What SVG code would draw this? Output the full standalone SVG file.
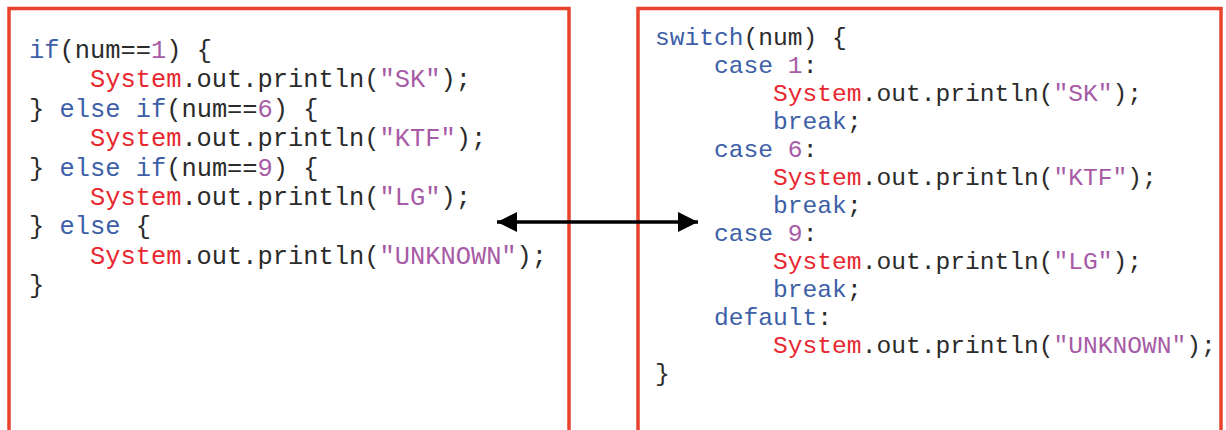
<svg xmlns="http://www.w3.org/2000/svg" width="1226" height="430" viewBox="0 0 1226 430">
<style>
.box{fill:#ffffff;stroke:#E8412C;stroke-width:3.5}
.code{font-family:"Liberation Mono","Courier New",monospace;fill:#2b2b2b}
.l{font-size:25.4px}
.r{font-size:24.6px}
.kw{fill:#3D5FA8}
.cls{fill:#E8272F}
.str{fill:#A75BA6}
.num{fill:#A75BA6}
.conn{stroke:#000;stroke-width:3.5;fill:none}
</style>
<defs>
<marker id="ah" viewBox="0 0 20 20" refX="20" refY="10" markerWidth="20" markerHeight="20" markerUnits="userSpaceOnUse" orient="auto-start-reverse">
<path d="M0,0 L20,10 L0,20 Z" fill="#000"/>
</marker>
</defs>
<rect width="1226" height="430" fill="#ffffff"/>
<g id="if-else-box">
<rect class="box" x="9" y="8.5" width="560" height="440"/>
<text class="code l" xml:space="preserve">
<tspan x="29" y="58"><tspan class="kw">if</tspan>(num==<tspan class="num">1</tspan>) {</tspan>
<tspan x="29" y="87.4">    <tspan class="cls">System</tspan>.out.println(<tspan class="str">"SK"</tspan>);</tspan>
<tspan x="29" y="116.8">} <tspan class="kw">else</tspan> <tspan class="kw">if</tspan>(num==<tspan class="num">6</tspan>) {</tspan>
<tspan x="29" y="146.2">    <tspan class="cls">System</tspan>.out.println(<tspan class="str">"KTF"</tspan>);</tspan>
<tspan x="29" y="175.6">} <tspan class="kw">else</tspan> <tspan class="kw">if</tspan>(num==<tspan class="num">9</tspan>) {</tspan>
<tspan x="29" y="205">    <tspan class="cls">System</tspan>.out.println(<tspan class="str">"LG"</tspan>);</tspan>
<tspan x="29" y="234.4">} <tspan class="kw">else</tspan> {</tspan>
<tspan x="29" y="263.8">    <tspan class="cls">System</tspan>.out.println(<tspan class="str">"UNKNOWN"</tspan>);</tspan>
<tspan x="29" y="293.2">}</tspan>
</text>
</g>
<g id="switch-box">
<rect class="box" x="638" y="8.5" width="583" height="440"/>
<text class="code r" xml:space="preserve">
<tspan x="655" y="45"><tspan class="kw">switch</tspan>(num) {</tspan>
<tspan x="655" y="73">    <tspan class="kw">case</tspan> <tspan class="num">1</tspan>:</tspan>
<tspan x="655" y="101">        <tspan class="cls">System</tspan>.out.println(<tspan class="str">"SK"</tspan>);</tspan>
<tspan x="655" y="129">        <tspan class="kw">break</tspan>;</tspan>
<tspan x="655" y="157">    <tspan class="kw">case</tspan> <tspan class="num">6</tspan>:</tspan>
<tspan x="655" y="185">        <tspan class="cls">System</tspan>.out.println(<tspan class="str">"KTF"</tspan>);</tspan>
<tspan x="655" y="213">        <tspan class="kw">break</tspan>;</tspan>
<tspan x="655" y="241">    <tspan class="kw">case</tspan> <tspan class="num">9</tspan>:</tspan>
<tspan x="655" y="269">        <tspan class="cls">System</tspan>.out.println(<tspan class="str">"LG"</tspan>);</tspan>
<tspan x="655" y="297">        <tspan class="kw">break</tspan>;</tspan>
<tspan x="655" y="325">    <tspan class="kw">default</tspan>:</tspan>
<tspan x="655" y="353">        <tspan class="cls">System</tspan>.out.println(<tspan class="str">"UNKNOWN"</tspan>);</tspan>
<tspan x="655" y="381">}</tspan>
</text>
</g>
<g id="connectors">
<line class="conn" x1="497" y1="222" x2="698" y2="222" marker-start="url(#ah)" marker-end="url(#ah)"/>
</g>
</svg>
